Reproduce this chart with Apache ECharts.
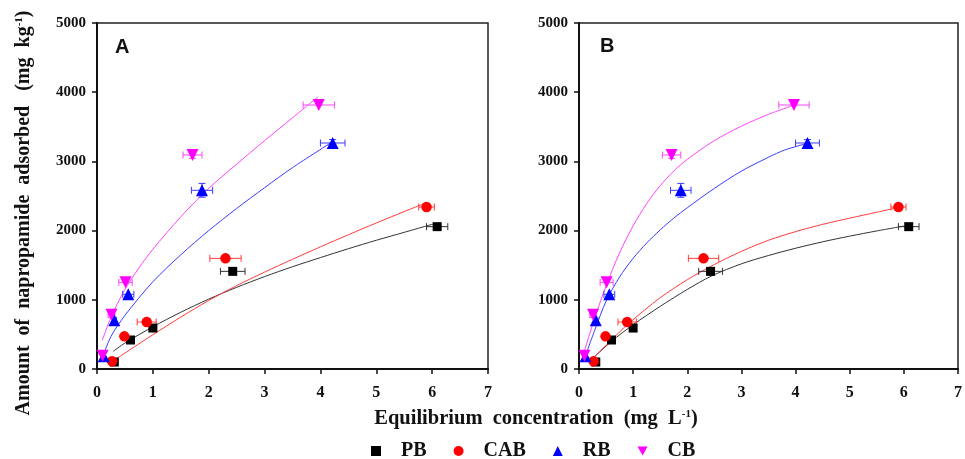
<!DOCTYPE html>
<html><head><meta charset="utf-8">
<script src="https://cdn.jsdelivr.net/npm/echarts@6/dist/echarts.min.js"></script>
<style>html,body{margin:0;padding:0;background:#fff}#c{width:965px;height:459px}</style>
</head><body><div id="c"></div>
<script>
// ---------- data ----------
const names = ['PB', 'CAB', 'RB', 'CB'];
const xTicks = [0, 1, 2, 3, 4, 5, 6, 7];
const yTicks = [0, 1000, 2000, 3000, 4000, 5000];

// measured points: equilibrium concentration (mg/L), amount adsorbed (mg/kg), x error, y error
const pbX = [0.31, 0.60, 1.00, 2.43, 6.09];
const pbY = [101, 419, 592, 1411, 2057];
const pbXErr = [0, 0, 0, 0.22, 0.19];
const pbYErr = [0, 0, 0, 0, 0];

const cabX = [0.27, 0.49, 0.89, 2.30, 5.90];
const cabY = [111, 472, 679, 1599, 2341];
const cabXErr = [0, 0.03, 0.17, 0.28, 0.14];
const cabYErr = [0, 0, 0, 0, 0];

const rbX = [0.12, 0.31, 0.56, 1.88, 4.22];
const rbY = [183, 703, 1079, 2582, 3266];
const rbXErr = [0, 0.04, 0.10, 0.19, 0.22];
const rbYErr = [0, 0, 0, 100, 50];

const cbX = [0.10, 0.26, 0.51, 1.71, 3.97];
const cbY = [193, 785, 1252, 3093, 3815];
const cbXErr = [0, 0.06, 0.12, 0.17, 0.28];
const cbYErr = [0, 40, 0, 50, 0];

// fitted curves, panel A
const fitA_PB = [[0.29,255],[0.5,375],[1.0,610],[1.5,820],[2.0,1010],[2.5,1180],[3.0,1335],[3.5,1478],[4.0,1610],[4.5,1738],[5.0,1860],[5.5,1975],[6.02,2095]];
const fitA_CAB = [[0.23,85],[0.5,230],[1.0,495],[1.5,750],[2.0,990],[2.5,1205],[3.0,1400],[3.5,1585],[4.0,1765],[4.5,1940],[5.0,2110],[5.5,2275],[5.9,2405]];
const fitA_RB = [[0.09,150],[0.25,470],[0.5,775],[1.0,1260],[1.5,1650],[2.0,2000],[2.5,2320],[3.0,2620],[3.5,2910],[4.2,3276]];
const fitA_CB = [[0.095,415],[0.25,745],[0.5,1150],[0.75,1460],[1.0,1730],[1.5,2200],[2.0,2610],[2.5,2960],[3.0,3300],[3.5,3630],[3.96,3935]];

// fitted curves, panel B
const fitB_PB = [[0.25,150],[0.6,400],[1.0,640],[1.5,905],[2.0,1150],[2.45,1345],[3.0,1520],[3.5,1640],[4.0,1745],[4.5,1838],[5.0,1920],[5.5,1995],[6.0,2065]];
const fitB_CAB = [[0.25,150],[0.6,420],[0.92,660],[1.5,1030],[2.0,1290],[2.5,1510],[3.0,1700],[3.5,1860],[4.0,1985],[4.5,2090],[5.0,2180],[5.5,2265],[5.9,2335]];
const fitB_RB = [[0.11,171],[0.3,580],[0.5,980],[0.75,1330],[1.0,1600],[1.25,1820],[1.5,2010],[1.75,2180],[2.0,2330],[2.5,2610],[3.0,2860],[3.5,3060],[3.8,3165],[4.22,3262]];
const fitB_CB = [[0.1,260],[0.3,760],[0.5,1200],[0.75,1680],[1.0,2070],[1.25,2390],[1.5,2650],[1.75,2860],[2.0,3030],[2.5,3300],[3.0,3510],[3.5,3680],[3.96,3810]];

// ---------- styling ----------
const serif = "'Liberation Serif','Times New Roman',serif";
const markColors = ['#000000', '#ff0000', '#0000ff', '#ff00ff'];
const lineColors = ['#333333', '#ff3b3b', '#3b3bff', '#ff44ff'];
const symbols = ['rect', 'circle', 'triangle', 'triangle'];
const symbolSizes = [9, 10.5, 12, 12];
const rotates = [0, 0, 0, 180];

const pts = [
  [pbX, pbY, pbXErr, pbYErr],
  [cabX, cabY, cabXErr, cabYErr],
  [rbX, rbY, rbXErr, rbYErr],
  [cbX, cbY, cbXErr, cbYErr]
];
const fitsA = [fitA_PB, fitA_CAB, fitA_RB, fitA_CB];
const fitsB = [fitB_PB, fitB_CAB, fitB_RB, fitB_CB];

const grids = [
  { left: 97, top: 23, width: 391, height: 346, show: true, borderColor: '#222', borderWidth: 1.5, backgroundColor: 'transparent' },
  { left: 579, top: 23, width: 388, height: 346, show: true, borderColor: '#222', borderWidth: 1.5, backgroundColor: 'transparent' }
];

function xAx(i) {
  return {
    gridIndex: i, type: 'value', min: 0, max: 7, interval: 1,
    axisLine: { show: true, onZero: false, lineStyle: { color: '#111', width: 2 } },
    axisTick: { show: true, inside: false, length: 5, lineStyle: { color: '#111', width: 1.5 } },
    splitLine: { show: false },
    axisLabel: { color: '#111', fontFamily: serif, fontWeight: 'bold', fontSize: 16, margin: 16,
      formatter: v => String(xTicks[xTicks.indexOf(v)]) }
  };
}
function yAx(i) {
  return {
    gridIndex: i, type: 'value', min: 0, max: 5000, interval: 1000,
    axisLine: { show: true, onZero: false, lineStyle: { color: '#111', width: 2 } },
    axisTick: { show: true, inside: false, length: 5, lineStyle: { color: '#111', width: 1.5 } },
    splitLine: { show: false },
    axisLabel: { color: '#111', fontFamily: serif, fontWeight: 'bold', fontSize: 15, margin: 11,
      formatter: v => String(yTicks[yTicks.indexOf(v)]) }
  };
}

function errRender(color) {
  return function (params, api) {
    const x = api.value(0), y = api.value(1), ex = api.value(2), ey = api.value(3);
    const st = { stroke: color, lineWidth: 1, fill: null };
    const ch = [];
    if (ex > 0) {
      const l = api.coord([x - ex, y]), r = api.coord([x + ex, y]);
      ch.push({ type: 'line', shape: { x1: l[0], y1: l[1], x2: r[0], y2: r[1] }, style: st });
      ch.push({ type: 'line', shape: { x1: l[0], y1: l[1] - 3.5, x2: l[0], y2: l[1] + 3.5 }, style: st });
      ch.push({ type: 'line', shape: { x1: r[0], y1: r[1] - 3.5, x2: r[0], y2: r[1] + 3.5 }, style: st });
    }
    if (ey > 0) {
      const t = api.coord([x, y + ey]), b = api.coord([x, y - ey]);
      ch.push({ type: 'line', shape: { x1: t[0], y1: t[1], x2: b[0], y2: b[1] }, style: st });
      ch.push({ type: 'line', shape: { x1: t[0] - 3.5, y1: t[1], x2: t[0] + 3.5, y2: t[1] }, style: st });
      ch.push({ type: 'line', shape: { x1: b[0] - 3.5, y1: b[1], x2: b[0] + 3.5, y2: b[1] }, style: st });
    }
    return { type: 'group', children: ch };
  };
}

const series = [];
[fitsA, fitsB].forEach((fits, g) => {
  fits.forEach((f, k) => {
    series.push({
      type: 'line', name: names[k] + ' fit', xAxisIndex: g, yAxisIndex: g, data: f,
      smooth: 0.3, showSymbol: false, symbol: 'none', silent: true, z: 2,
      lineStyle: { color: lineColors[k], width: 1 }
    });
  });
  pts.forEach((p, k) => {
    const d = p[0].map((x, i) => [x, p[1][i], p[2][i], p[3][i]]);
    series.push({
      type: 'custom', name: names[k] + ' err', xAxisIndex: g, yAxisIndex: g, data: d, z: 3,
      renderItem: errRender(lineColors[k]), silent: true
    });
  });
  pts.forEach((p, k) => {
    series.push({
      type: 'scatter', name: names[k], xAxisIndex: g, yAxisIndex: g,
      data: p[0].map((x, i) => [x, p[1][i]]), z: 4,
      symbol: symbols[k], symbolSize: symbolSizes[k], symbolRotate: rotates[k],
      itemStyle: { color: markColors[k], opacity: 1 }
    });
  });
});

const titleFont = { fontFamily: serif, fontWeight: 'bold', fill: '#111' };
const option = {
  animation: false,
  backgroundColor: '#fff',
  grid: grids,
  xAxis: [xAx(0), xAx(1)],
  yAxis: [yAx(0), yAx(1)],
  legend: {
    left: 371, top: 441, padding: 0, itemWidth: 10, itemHeight: 10, itemGap: 27,
    data: [
      { name: 'PB', icon: 'rect', itemStyle: { color: '#000' } },
      { name: 'CAB', icon: 'circle' },
      { name: 'RB', icon: 'triangle' },
      { name: 'CB', icon: 'path://M0,0L10,0L5,9Z' }
    ],
    textStyle: { fontFamily: serif, fontWeight: 'bold', fontSize: 20, color: '#111', padding: [0, 0, 0, 15] }
  },
  series: series,
  graphic: [
    { type: 'text', left: 115, top: 37, style: { text: 'A', font: "bold 20px 'Liberation Sans', Arial, sans-serif", fill: '#111' } },
    { type: 'text', left: 600, top: 36, style: { text: 'B', font: "bold 20px 'Liberation Sans', Arial, sans-serif", fill: '#111' } },
    { type: 'text', x: 24, y: 213, rotation: Math.PI / 2,
      style: Object.assign({ text: 'Amount  of  napropamide  adsorbed   (mg  kg{s|-1})', fontSize: 20, align: 'center', verticalAlign: 'middle',
        rich: { s: { fontSize: 11, verticalAlign: 'top', fontFamily: serif, fontWeight: 'bold', padding: [0, 0, 9, 0] } } }, titleFont) },
    { type: 'text', x: 536, y: 419,
      style: Object.assign({ text: 'Equilibrium  concentration  (mg  L{s|-1})', fontSize: 20.5, align: 'center', verticalAlign: 'middle',
        rich: { s: { fontSize: 11, verticalAlign: 'top', fontFamily: serif, fontWeight: 'bold', padding: [0, 0, 9, 0] } } }, titleFont) }
  ]
};
const chart = echarts.init(document.getElementById('c'), null, { renderer: 'canvas' });
chart.setOption(option);
</script></body></html>
